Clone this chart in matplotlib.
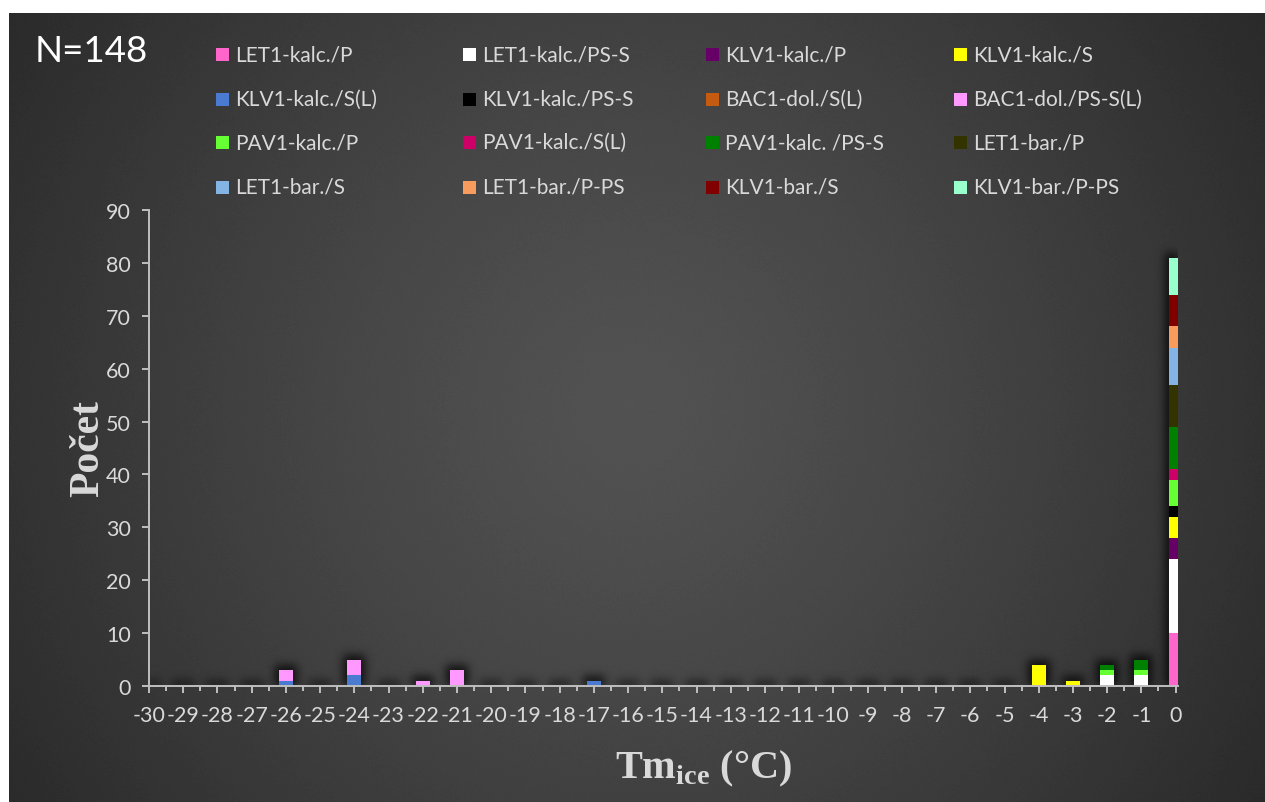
import numpy as np
import matplotlib

matplotlib.use("Agg")
import matplotlib.pyplot as plt
from matplotlib.patches import Rectangle

# Tm_ice categories (°C) on the x axis
temperatures = list(range(-30, 1))

series_labels = [
    "LET1-kalc./P", "LET1-kalc./PS-S", "KLV1-kalc./P", "KLV1-kalc./S",
    "KLV1-kalc./S(L)", "KLV1-kalc./PS-S", "BAC1-dol./S(L)", "BAC1-dol./PS-S(L)",
    "PAV1-kalc./P", "PAV1-kalc./S(L)", "PAV1-kalc. /PS-S", "LET1-bar./P",
    "LET1-bar./S", "LET1-bar./P-PS", "KLV1-bar./S", "KLV1-bar./P-PS",
]
series_colors = [
    "#ff66cc", "#ffffff", "#660066", "#ffff00",
    "#4a7bd0", "#000000", "#c55a11", "#ff99ff",
    "#66ff33", "#cc0066", "#008000", "#333300",
    "#84b4e3", "#f79c5c", "#800000", "#99ffcc",
]

# inclusion counts per sample, keyed by Tm_ice; missing temperatures have none
let1_kalc_p = {0: 10}
let1_kalc_ps_s = {-2: 2, -1: 2, 0: 14}
klv1_kalc_p = {0: 4}
klv1_kalc_s = {-4: 4, -3: 1, 0: 4}
klv1_kalc_s_l = {-26: 1, -24: 2, -17: 1}
klv1_kalc_ps_s = {0: 2}
bac1_dol_s_l = {}
bac1_dol_ps_s_l = {-26: 2, -24: 3, -22: 1, -21: 3}
pav1_kalc_p = {-2: 1, -1: 1, 0: 5}
pav1_kalc_s_l = {0: 2}
pav1_kalc_ps_s = {-2: 1, -1: 2, 0: 8}
let1_bar_p = {0: 8}
let1_bar_s = {0: 7}
let1_bar_p_ps = {0: 4}
klv1_bar_s = {0: 6}
klv1_bar_p_ps = {0: 7}

series_counts = [
    let1_kalc_p, let1_kalc_ps_s, klv1_kalc_p, klv1_kalc_s,
    klv1_kalc_s_l, klv1_kalc_ps_s, bac1_dol_s_l, bac1_dol_ps_s_l,
    pav1_kalc_p, pav1_kalc_s_l, pav1_kalc_ps_s, let1_bar_p,
    let1_bar_s, let1_bar_p_ps, klv1_bar_s, klv1_bar_p_ps,
]
total_count = "N=148"

W, H = 1265, 803
TEXT = "#d9d9d9"
AXIS = "#bfbfbf"
BAR_WIDTH = 0.41
X_LIM = (-30.0, 0.07)
Y_LIM = (0, 90)

plt.rcParams["font.family"] = ["Lato", "DejaVu Sans"]
plt.rcParams["mathtext.fontset"] = "custom"
plt.rcParams["mathtext.rm"] = "Liberation Serif:bold"
plt.rcParams["mathtext.bf"] = "Liberation Serif:bold"

fig = plt.figure(figsize=(W / 100, H / 100), dpi=100, facecolor="white")

# dark radial gradient panel, lightly dithered so the 8-bit steps don't band
bg_left, bg_top = 9, 14
bg_w, bg_h = W - bg_left, H - bg_top
bg = fig.add_axes([bg_left / W, 0, bg_w / W, bg_h / H])
yy, xx = np.mgrid[0:bg_h, 0:bg_w]
dist = np.hypot(xx - (632 - bg_left), yy - (408 - bg_top))
shade = np.clip(82 - 40 * (dist / 745) ** 1.3, 38, 90)
dither = np.random.default_rng(3).uniform(-1.2, 1.2, shade.shape)
bg.imshow((shade + dither) / 255.0, cmap="gray", vmin=0, vmax=1, aspect="auto",
          interpolation="nearest")
bg.set_axis_off()

ax_left, ax_right, ax_bottom, ax_top = 149, 1178, 687, 211
ax = fig.add_axes([ax_left / W, 1 - ax_bottom / H,
                   (ax_right - ax_left) / W, (ax_bottom - ax_top) / H])
ax.patch.set_alpha(0)

columns = [[c.get(t, 0) for t in temperatures] for c in series_counts]
totals = np.sum(columns, axis=0)

# soft drop shadow under each stacked column (also under empty ones)
nx, ny = ax_right - ax_left, ax_bottom - ax_top
px_per_x = nx / (X_LIM[1] - X_LIM[0])
px_per_y = ny / (Y_LIM[1] - Y_LIM[0])
mask = np.zeros((ny, nx))
for t, total in zip(temperatures, totals):
    x0 = int(round((t - BAR_WIDTH / 2 - X_LIM[0]) * px_per_x)) - 4
    x1 = int(round((t + BAR_WIDTH / 2 - X_LIM[0]) * px_per_x)) + 4
    top = int(round(total * px_per_y)) + 5
    mask[0:top, max(x0, 0):min(x1, nx)] = 1.0
sigma = 4.5
k = np.arange(-15, 16)
kernel = np.exp(-0.5 * (k / sigma) ** 2)
kernel /= kernel.sum()
blur = np.apply_along_axis(lambda r: np.convolve(r, kernel, mode="same"), 1, mask)
blur = np.apply_along_axis(lambda c: np.convolve(c, kernel, mode="same"), 0, blur)
shadow = np.zeros((ny, nx, 4))
shadow[..., 3] = np.clip(blur * 0.75, 0, 0.65)
ax.imshow(shadow, origin="lower", extent=(*X_LIM, *Y_LIM), aspect="auto",
          interpolation="bilinear", zorder=1)

bottom = np.zeros(len(temperatures))
for label, color, values in zip(series_labels, series_colors, columns):
    ax.bar(temperatures, values, width=BAR_WIDTH, bottom=bottom, color=color,
           linewidth=0, label=label, zorder=3)
    bottom += np.array(values)

ax.set_xlim(*X_LIM)
ax.set_ylim(*Y_LIM)
ax.set_xticks(temperatures, labels=[str(t) for t in temperatures])
ax.set_xticks([t + 0.5 for t in temperatures[:-1]], minor=True)
ax.set_yticks(range(0, 91, 10))
for side in ("top", "right"):
    ax.spines[side].set_visible(False)
for side in ("left", "bottom"):
    ax.spines[side].set_color(AXIS)
    ax.spines[side].set_linewidth(1.4)
    ax.spines[side].set_zorder(4)
ax.tick_params(axis="both", which="major", length=5, width=1.4, color=AXIS,
               labelcolor=TEXT, labelsize=15.5)
ax.tick_params(axis="x", which="major", pad=8.5)
ax.tick_params(axis="y", which="major", pad=8)
ax.tick_params(axis="x", which="minor", length=3.5, width=1.4, color=AXIS)

fig.text(88 / W, 1 - 449 / H, "Počet", rotation=90, ha="center", va="center",
         family="Liberation Serif", weight="bold", size=30, color=TEXT)
fig.text(703 / W, 1 - 769 / H, r"$\mathrm{Tm}_{\mathrm{ice}}$ (°C)", ha="center",
         va="center", family="Liberation Serif", weight="bold", size=29, color=TEXT)

fig.text(35 / W, 1 - 52 / H, total_count, ha="left", va="center", size=26.5,
         color="white")

# legend laid out row by row in four evenly spaced columns
col_x = [216, 463, 706, 954]
row_y = [55, 100, 143, 188]
sq = 13
for i, (label, color) in enumerate(zip(series_labels, series_colors)):
    row, col = divmod(i, 4)
    x, y = col_x[col], row_y[row]
    fig.add_artist(Rectangle((x / W, 1 - (y + sq / 2) / H), sq / W, sq / H,
                             transform=fig.transFigure, facecolor=color,
                             edgecolor="none"))
    fig.text((x + sq + 6) / W, 1 - y / H, label, ha="left", va="center",
             size=15, color=TEXT)

fig.savefig("out.png", dpi=100, facecolor="white")
